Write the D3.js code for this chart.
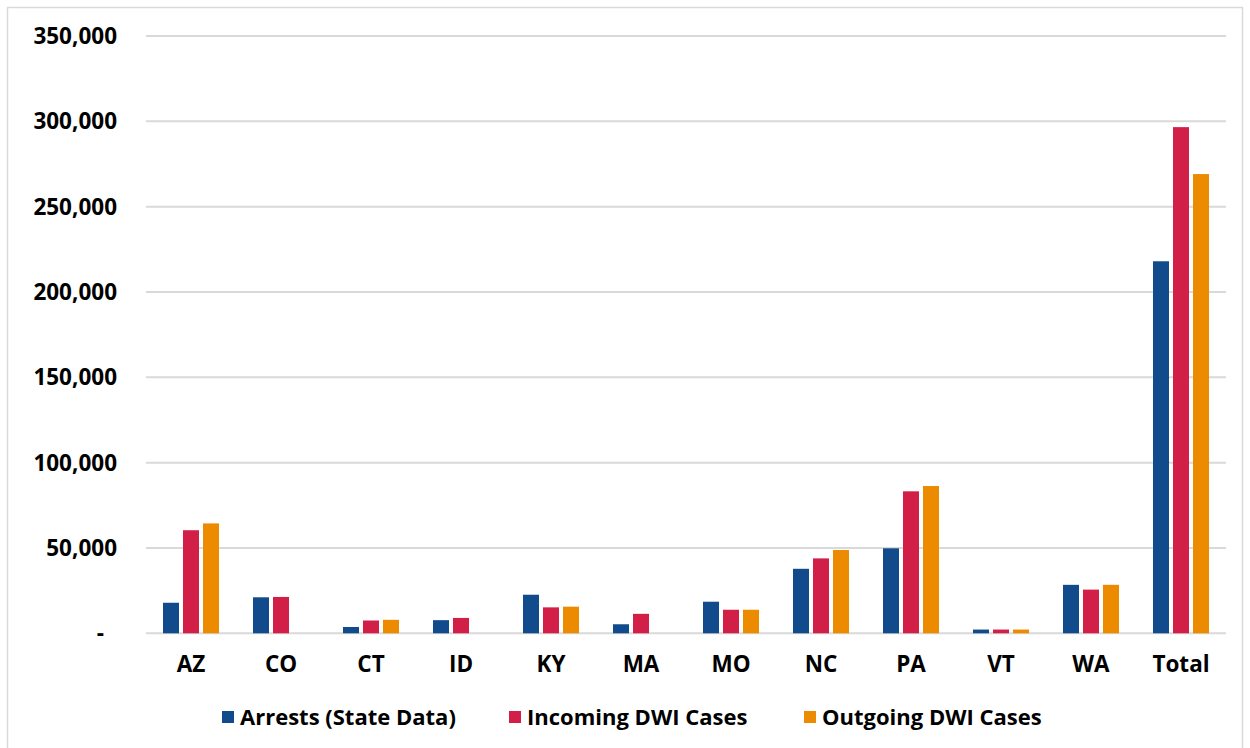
<!DOCTYPE html>
<html>
<head>
<meta charset="utf-8">
<script src="https://cdn.jsdelivr.net/npm/d3@7"></script>
<style>
  body { margin: 0; background: #fff; }
  svg text { font-family: "Open Sans", "Noto Sans", sans-serif; font-weight: 700; fill: #000; }
</style>
</head>
<body>
<svg id="chart" width="1250" height="748"></svg>
<script>
const states = ["AZ", "CO", "CT", "ID", "KY", "MA", "MO", "NC", "PA", "VT", "WA", "Total"]
const seriesNames = ["Arrests (State Data)", "Incoming DWI Cases", "Outgoing DWI Cases"]
const arrests  = [17900, 21100, 3700, 7700, 22600, 5300, 18500, 37800, 49800, 2200, 28400, 218000]
const incoming = [60400, 21300, 7500, 9000, 15200, 11400, 13800, 43900, 83200, 2200, 25600, 296600]
const outgoing = [64400, 0, 7900, 0, 15600, 0, 13800, 48800, 86300, 2200, 28400, 269100]
const yTicks = [0, 50000, 100000, 150000, 200000, 250000, 300000, 350000]
const colors = ["#124b8b", "#d21f47", "#ec8b00"]

const svg = d3.select("#chart")

// outer frame
svg.append("rect")
  .attr("x", 7.5).attr("y", 7.5)
  .attr("width", 1235).attr("height", 760)
  .attr("fill", "none").attr("stroke", "#d9d9d9").attr("stroke-width", 1.5)

const plotL = 146, plotR = 1226, plotT = 36, plotB = 633.3

const x = d3.scaleBand().domain(states).range([plotL, plotR])
const xs = d3.scaleBand().domain(d3.range(3)).range([0, 56]).paddingInner(0.2)
const y = d3.scaleLinear().domain([0, 350000]).range([plotB, plotT])

// gridlines
svg.append("g")
  .selectAll("line")
  .data(yTicks)
  .join("line")
    .attr("x1", plotL).attr("x2", plotR)
    .attr("y1", d => y(d)).attr("y2", d => y(d))
    .attr("stroke", "#d9d9d9").attr("stroke-width", 2)

// y labels
const fmt = d3.format(",")
svg.append("g")
  .selectAll("text")
  .data(yTicks)
  .join("text")
    .attr("x", d => d === 0 ? 104 : 117)
    .attr("y", d => y(d))
    .attr("dy", "0.36em")
    .attr("text-anchor", "end")
    .attr("font-size", 22.5)
    .text(d => d === 0 ? "-" : fmt(d))

// bars
const rows = states.map((s, i) => [arrests[i], incoming[i], outgoing[i]])
const groups = svg.append("g")
  .selectAll("g")
  .data(rows)
  .join("g")
    .attr("transform", (d, i) => `translate(${x(states[i]) + x.bandwidth() / 2 - 28},0)`)

groups.selectAll("rect")
  .data(d => d.map((v, k) => ({v, k})).filter(d => d.v > 0))
  .join("rect")
    .attr("x", d => xs(d.k))
    .attr("width", xs.bandwidth())
    .attr("y", d => y(d.v))
    .attr("height", d => plotB - y(d.v))
    .attr("fill", d => colors[d.k])

// x labels
svg.append("g")
  .selectAll("text")
  .data(states)
  .join("text")
    .attr("x", d => x(d) + x.bandwidth() / 2)
    .attr("y", 672)
    .attr("text-anchor", "middle")
    .attr("font-size", 22.5)
    .text(d => d)

// legend
const legendX = [222, 509, 804]
const legend = svg.append("g")
  .selectAll("g")
  .data(seriesNames)
  .join("g")
    .attr("transform", (d, i) => `translate(${legendX[i]},717)`)
legend.append("rect")
  .attr("x", 0).attr("y", -6).attr("width", 12).attr("height", 12)
  .attr("fill", (d, i) => colors[i])
legend.append("text")
  .attr("x", 18).attr("dy", "0.36em")
  .attr("font-size", 22)
  .text(d => d)
</script>
</body>
</html>
